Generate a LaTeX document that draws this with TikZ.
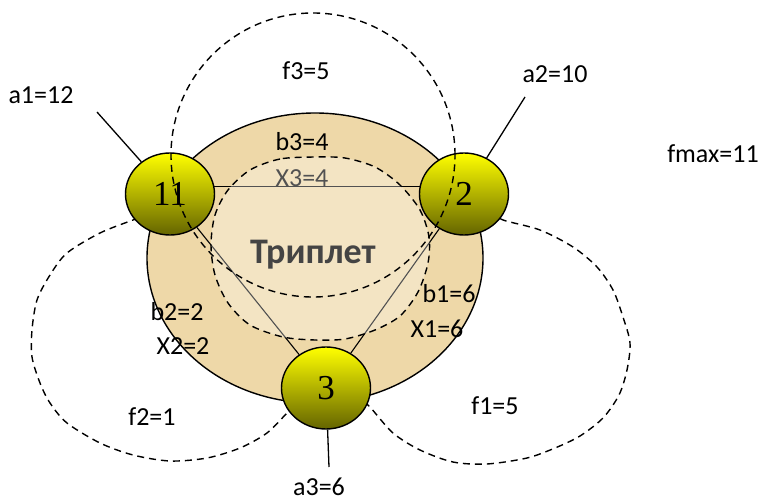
\documentclass[tikz,border=0pt]{standalone}
\usepackage{fontspec}
\setmainfont{Carlito}
\newfontfamily\serifnum{Liberation Serif}
\usetikzlibrary{shapes.geometric}
\definecolor{papyrus}{RGB}{238,216,168}
\definecolor{nodetop}{RGB}{255,255,0}
\definecolor{nodemid}{RGB}{225,225,0}
\definecolor{nodebot}{RGB}{100,100,0}
\definecolor{triptext}{RGB}{68,68,68}
\pgfdeclarelayer{below}
\pgfsetlayers{below,main}
\begin{document}
\begin{tikzpicture}[x=1pt,y=1pt,
  lbl/.style={font=\fontsize{26}{28}\selectfont, text=black, inner sep=0pt, anchor=base},
  vtx/.style={ellipse, draw=black, line width=1.4pt, minimum width=89pt, minimum height=82pt,
    inner sep=0pt, top color=nodetop, middle color=nodemid, bottom color=nodebot,
    font=\serifnum\fontsize{35}{37}\selectfont},
  dsh/.style={draw=black, line width=1.4pt, dash pattern=on 7pt off 5pt},
  edge/.style={draw=black, line width=1.1pt},
  leg/.style={draw=black, line width=1.3pt}]
\useasboundingbox (0,0) rectangle (761,-500);

% vertices
\node[vtx] (n11) at (170,-194) {11};
\node[vtx] (n2) at (464,-194) {2};
\node[vtx] (n3) at (326,-388) {3};

\coordinate (a1end) at (97,-112);
\coordinate (a2end) at (525,-97);
\coordinate (a3end) at (329,-467);

\begin{pgfonlayer}{below}
  % f1 and f2 loops (partly hidden)
  \draw[dsh] plot[smooth] coordinates {(150,-214) (133,-220) (100,-233) (67,-253) (50,-275) (37,-300)
    (32,-330) (32,-357) (40,-383) (50,-403) (67,-423) (100,-443) (133,-455) (170,-461) (207,-458)
    (240,-448) (267,-433) (287,-413) (300,-400)};
  \draw[dsh] plot[smooth] coordinates {(490,-212) (503,-220) (540,-230) (573,-247) (597,-267) (613,-290)
    (623,-317) (630,-343) (627,-370) (619,-395) (603,-418) (580,-436) (555,-448) (527,-458)
    (487,-464) (453,-462) (420,-450) (393,-433) (370,-407) (360,-398)};
  % triplet region
  \draw[line width=1.4pt, fill=papyrus] (315,-258) ellipse[x radius=168pt, y radius=145pt];
  % labels inside
  \node[lbl] (b3) at (302,-151) {b3=4};
  \node[lbl] (x3) at (302,-187) {X3=4};
  \node[lbl] (b2) at (177,-320) {b2=2};
  \node[lbl] (x2) at (183,-354) {X2=2};
  \node[lbl] (b1) at (449,-302) {b1=6};
  \node[lbl] (x1) at (437,-337) {X1=6};
  % triangle
  \draw[edge] (n11.10) -- (n2.170);
  \draw[edge] (n11) -- (n3);
  \draw[edge] (n2) -- (n3);
  % inner lighter region
  \draw[dsh, fill=white, fill opacity=0.32] plot[smooth cycle] coordinates {(315,-157) (280,-159)
    (250,-170) (228,-190) (215,-215) (211,-245) (215,-275) (228,-303) (250,-325) (283,-337)
    (315,-340) (345,-339) (375,-330) (400,-316) (418,-292) (428,-263) (429,-237) (420,-210)
    (400,-185) (375,-167) (345,-158)};
  \node[lbl, text=triptext, font=\bfseries\fontsize{36}{38}\selectfont] (trip) at (313,-263) {Триплет};
  % legs
  \draw[leg] (n11) -- (a1end);
  \draw[leg] (n2) -- (a2end);
  \draw[leg] (n3) -- (a3end);
\end{pgfonlayer}

% f3 loop over the vertices
\draw[dsh] (313,-155) circle[radius=142pt];

% outer labels
\node[lbl] (la1) at (41,-104) {a1=12};
\node[lbl] (la2) at (555,-83) {a2=10};
\node[lbl] (la3) at (319,-495) {a3=6};
\node[lbl] (lf3) at (306,-80) {f3=5};
\node[lbl] (lf2) at (152,-425) {f2=1};
\node[lbl] (lf1) at (495,-414) {f1=5};
\node[lbl] (lfm) at (713,-163) {fmax=11};
\end{tikzpicture}
\end{document}
